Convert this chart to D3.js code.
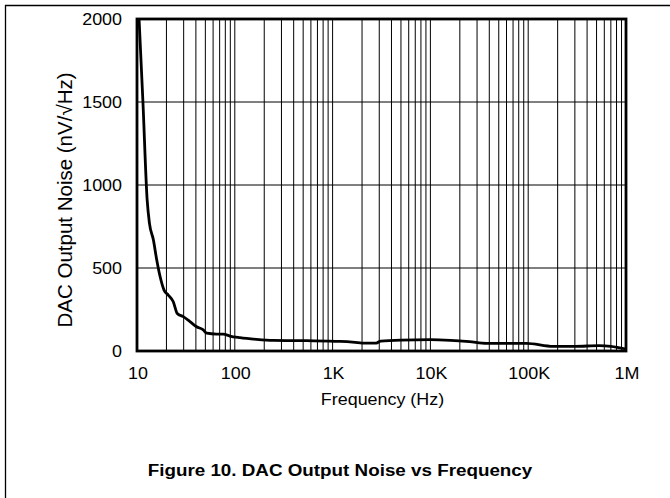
<!DOCTYPE html>
<html>
<head>
<meta charset="utf-8">
<script src="https://cdn.jsdelivr.net/npm/d3@7"></script>
<style>
  html, body { margin: 0; padding: 0; background: #fff; }
  svg { display: block; font-family: "Liberation Sans", Arial, sans-serif; }
</style>
</head>
<body>
<svg id="chart" width="670" height="498"></svg>
<script>
// ---- data ----
const freqHz = [10.5, 11.5, 12.7, 13.4, 14.7, 15.9, 17.2, 18.9, 20.9, 23.5, 25.8, 29.7, 34.8, 40.7, 47.6, 51.6, 65, 76, 89, 113, 167, 248, 540, 1200, 1700, 2000, 2800, 3100, 5000, 10000, 16000, 25000, 37600, 96000, 180000, 300000, 530000, 700000, 1000000];
const noise = [2000, 1500, 910, 770, 670, 550, 450, 367, 337, 297, 226, 207, 177, 146, 127, 107, 102, 102, 90, 80, 70, 64, 62, 58, 52, 48, 48, 60, 66, 68, 64, 56, 46, 46, 28, 28, 32, 28, 12];
const xTickValues = [10, 100, 1000, 10000, 100000, 1000000];
const xTickLabels = ["10", "100", "1K", "10K", "100K", "1M"];
const yTickValues = [0, 500, 1000, 1500, 2000];
const xTitle = "Frequency (Hz)";
const yTitle = "DAC Output Noise (nV/\u221AHz)";
const caption = "Figure 10. DAC Output Noise vs Frequency";

// ---- layout ----
const L = 137, R = 626, T = 19, B = 351;
const SX = 1.12; // horizontal stretch of the original text
const svg = d3.select("#chart");
const x = d3.scaleLog().domain([10, 1e6]).range([L, R]);
const y = d3.scaleLinear().domain([0, 2000]).range([B, T]);

// outer frame (top + left)
svg.append("path").attr("d", "M5.5,498 L5.5,5.5 L670,5.5")
  .attr("fill", "none").attr("stroke", "#000").attr("stroke-width", 1.3);

// vertical grid
const gridF = [];
for (let d = 10; d < 1e6; d *= 10) for (let k = 1; k <= 9; k++) gridF.push(k * d);
gridF.push(1e6);
svg.append("g").selectAll("line").data(gridF).join("line")
  .attr("x1", d => x(d)).attr("x2", d => x(d))
  .attr("y1", T).attr("y2", B)
  .attr("stroke", "#000").attr("stroke-width", 1);

// horizontal grid
svg.append("g").selectAll("line").data(yTickValues).join("line")
  .attr("x1", L).attr("x2", R)
  .attr("y1", d => y(d)).attr("y2", d => y(d))
  .attr("stroke", "#000").attr("stroke-width", 1);

// curve
const line = d3.line().x((d, i) => x(freqHz[i])).y((d, i) => y(noise[i])).curve(d3.curveMonotoneX);
svg.append("path").datum(noise).attr("d", line)
  .attr("fill", "none").attr("stroke", "#000").attr("stroke-width", 2.8).attr("stroke-linejoin", "round");

// plot frame
svg.append("rect").attr("x", L).attr("y", T).attr("width", R - L).attr("height", B - T)
  .attr("fill", "none").attr("stroke", "#000").attr("stroke-width", 2.8);

// x tick labels
svg.append("g").selectAll("text").data(xTickValues).join("text")
  .attr("transform", d => `translate(${x(d) + 1},379) scale(${SX},1)`)
  .attr("text-anchor", "middle").style("font-size", "16px").attr("fill", "#000")
  .text((d, i) => xTickLabels[i]);

// y tick labels
svg.append("g").selectAll("text").data(yTickValues).join("text")
  .attr("transform", d => `translate(122,${y(d)}) scale(${SX},1)`)
  .attr("text-anchor", "end").attr("dy", "0.36em").style("font-size", "16px").attr("fill", "#000")
  .text(d => d3.format("d")(d));

svg.append("text").attr("transform", `translate(${(L + R) / 2 + 1},405) scale(${SX},1)`)
  .attr("text-anchor", "middle").style("font-size", "16px").text(xTitle);

svg.append("text").attr("transform", `translate(72,200) rotate(-90)`)
  .attr("text-anchor", "middle").style("font-size", "20.5px").text(yTitle);

svg.append("text").attr("transform", `translate(340,476) scale(${SX},1)`)
  .attr("text-anchor", "middle")
  .style("font-size", "16.8px").style("font-weight", "bold").text(caption);
</script>
</body>
</html>
